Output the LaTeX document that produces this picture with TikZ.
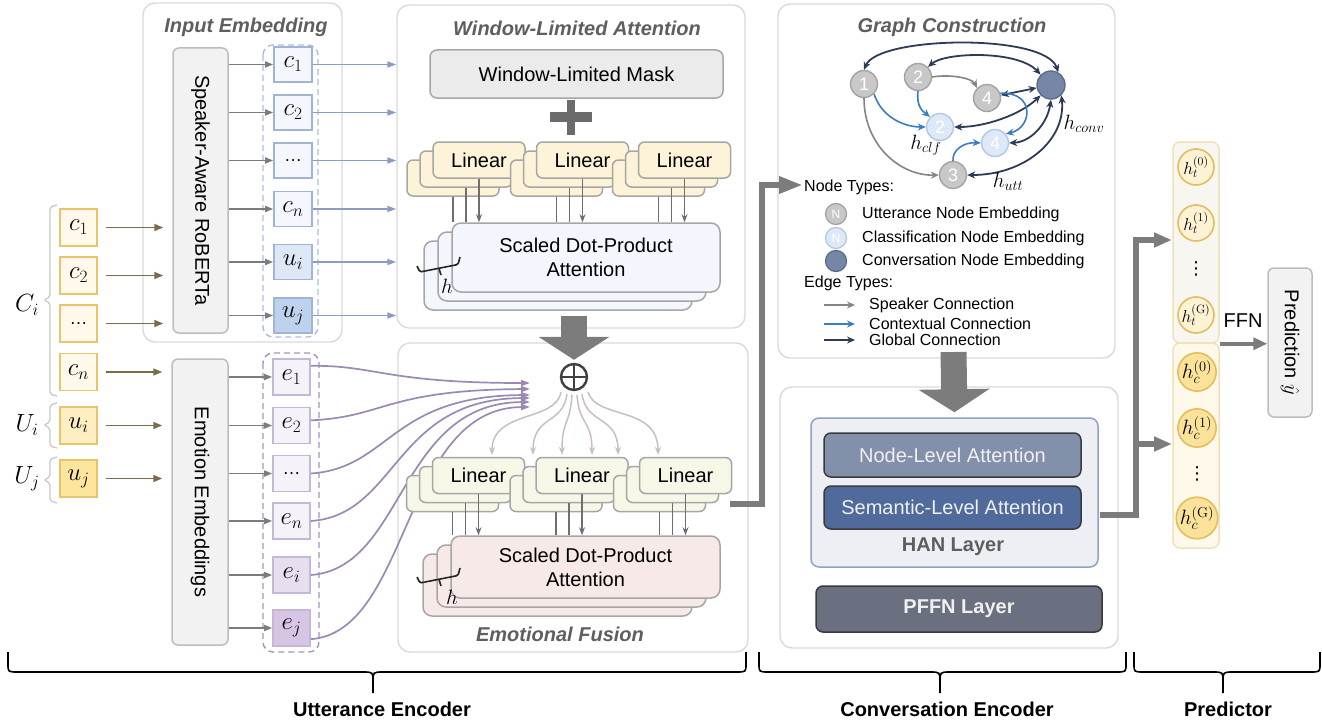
\documentclass[tikz,border=0pt]{standalone}
\usepackage[no-math]{fontspec}
\setmainfont{Liberation Sans}
\newfontfamily\symbolfont{DejaVu Sans}
\usetikzlibrary{arrows.meta}

\definecolor{panelline}{HTML}{DADADA}
\definecolor{titlegray}{HTML}{5E5E5E}
\definecolor{grayfill}{HTML}{F2F2F2}
\definecolor{grayline}{HTML}{BDBDBD}
\definecolor{arrgray}{HTML}{7C7C7C}
\definecolor{olivearrow}{HTML}{7A6D4C}
\definecolor{goldline}{HTML}{E8C56C}
\definecolor{goldA}{HTML}{FEF9EA}
\definecolor{goldB}{HTML}{FDEFC3}
\definecolor{goldC}{HTML}{FDE59D}
\definecolor{cline}{HTML}{A2B4D6}
\definecolor{blueA}{HTML}{F4F7FD}
\definecolor{blueB}{HTML}{DDE7F5}
\definecolor{blueC}{HTML}{BDD2EC}
\definecolor{bluedash}{HTML}{A9BDE0}
\definecolor{bluearrow}{HTML}{8A9CC2}
\definecolor{eline}{HTML}{C5B8D6}
\definecolor{purpA}{HTML}{F6F2F9}
\definecolor{purpB}{HTML}{E7DEF0}
\definecolor{purpC}{HTML}{D6C5E4}
\definecolor{purpdash}{HTML}{A593BB}
\definecolor{purpline}{HTML}{9B89B4}
\definecolor{boxline}{HTML}{A6A6A6}
\definecolor{maskfill}{HTML}{EBEBEB}
\definecolor{plusgray}{HTML}{6B6B6B}
\definecolor{linY}{HTML}{FDF3D8}
\definecolor{linG}{HTML}{F7F7E8}
\definecolor{sdpB}{HTML}{F3F6FC}
\definecolor{sdpP}{HTML}{F8E9E9}
\definecolor{stemgray}{HTML}{6E6E6E}
\definecolor{fanline}{HTML}{CBBEBE}
\definecolor{opluscol}{HTML}{404040}
\definecolor{navy}{HTML}{2E3B56}
\definecolor{ctxblue}{HTML}{3B7DC4}
\definecolor{spkgray}{HTML}{858585}
\definecolor{uttfill}{HTML}{C8C8C8}
\definecolor{uttline}{HTML}{A3A3A3}
\definecolor{clffill}{HTML}{DDE9F6}
\definecolor{clfline}{HTML}{B5C7DE}
\definecolor{convfill}{HTML}{7686A7}
\definecolor{convline}{HTML}{5C6C8C}
\definecolor{nodeatt}{HTML}{8390AA}
\definecolor{sematt}{HTML}{4F6A9B}
\definecolor{hanfill}{HTML}{EDEFF5}
\definecolor{hanline}{HTML}{8FA2C4}
\definecolor{pffnfill}{HTML}{6B7080}
\definecolor{darkline}{HTML}{3A3A3A}
\definecolor{predA}{HTML}{F8F6F0}
\definecolor{predB}{HTML}{FEF9EA}
\definecolor{predline}{HTML}{F0E2B6}
\definecolor{hA}{HTML}{FDF2D4}
\definecolor{hB}{HTML}{FBE29A}
\definecolor{hline}{HTML}{E3BE5E}
\definecolor{bracegray}{HTML}{C8C8C8}

\newcommand{\smalldots}{{\fontsize{18}{20}\selectfont\ldots}}

\tikzset{
  f20/.style={font=\fontsize{20}{24}\selectfont},
  f16/.style={font=\fontsize{16}{19}\selectfont},
  m24/.style={font=\fontsize{24}{28}\selectfont},
  panel/.style={draw=panelline, line width=1.4pt, rounded corners=12pt, fill=white, inner sep=0pt},
  ptitle/.style={font=\fontsize{20}{24}\selectfont\bfseries\itshape, text=titlegray},
  tallbox/.style={draw=grayline, fill=grayfill, line width=1.5pt, rounded corners=6pt, inner sep=0pt},
  inbox/.style={draw=goldline, line width=1.6pt, minimum width=37pt, minimum height=37pt, inner sep=0pt, m24},
  cbox/.style={draw=cline, line width=1.6pt, minimum width=38pt, minimum height=35pt, inner sep=0pt, m24},
  ebox/.style={draw=eline, line width=1.6pt, minimum width=37pt, minimum height=36pt, inner sep=0pt, m24},
  dashgrp/.style={line width=1.4pt, dash pattern=on 6pt off 4pt, rounded corners=10pt},
  olivearr/.style={draw=olivearrow, line width=1.6pt, -{Triangle[length=9pt,width=7pt]}},
  grayarr/.style={draw=arrgray, line width=1.6pt, -{Triangle[length=8pt,width=6pt]}},
  bluearr/.style={draw=bluearrow, line width=1.7pt, -{Triangle[length=9pt,width=6pt]}},
  purparr/.style={draw=purpline, line width=1.7pt, -{Triangle[length=9pt,width=6pt]}},
  maskbox/.style={draw=boxline, fill=maskfill, line width=1.5pt, rounded corners=7pt, inner sep=0pt, f20},
  linbox/.style={draw=boxline, line width=1.5pt, rounded corners=6pt, minimum width=92pt, minimum height=36pt, inner sep=0pt, f20},
  sdpbox/.style={draw=boxline, line width=1.5pt, rounded corners=9pt, inner sep=0pt, align=center, f20},
  stem/.style={draw=stemgray, line width=1.5pt},
  stemarr/.style={stem, -{Stealth[length=8pt,width=6pt]}},
  fanarr/.style={draw=fanline, line width=1.5pt, -{Stealth[length=8pt,width=6pt]}},
  bigdown/.style={draw=arrgray, line width=26pt, -{Triangle[length=23pt,width=70pt]}},
  fatarr/.style={draw=arrgray, line width=6pt, line join=miter, -{Triangle[length=24pt,width=16pt]}},
  hbrace/.style={draw=black!85, line width=1.6pt, rounded corners=1.5pt},
  utt/.style={circle, draw=uttline, fill=uttfill, line width=1.4pt, minimum size=27pt, inner sep=0pt, text=white, font=\fontsize{18}{20}\selectfont},
  clf/.style={utt, draw=clfline, fill=clffill},
  conv/.style={circle, draw=convline, fill=convfill, line width=1.4pt, minimum size=28pt, inner sep=0pt},
  spk/.style={draw=spkgray, line width=1.6pt, -{Stealth[length=8pt,width=7pt]}},
  ctx/.style={draw=ctxblue, line width=1.6pt, -{Stealth[length=8pt,width=7pt]}},
  glob/.style={draw=navy, line width=1.8pt, {Stealth[length=8pt,width=7pt]}-{Stealth[length=8pt,width=7pt]}},
  globone/.style={draw=navy, line width=1.8pt, -{Stealth[length=8pt,width=7pt]}},
  legdot/.style={circle, line width=1.3pt, minimum size=21pt, inner sep=0pt, text=white, font=\fontsize{12}{14}\selectfont},
  legtxt/.style={anchor=west, inner sep=0pt, f16},
  attbox/.style={draw=darkline, line width=1.5pt, rounded corners=7pt, inner sep=0pt, text=white!94!black, f20},
  hcirc/.style={circle, draw=hline, line width=1.6pt, minimum size=36pt, inner sep=0pt},
  vdot/.style={inner sep=0pt, font=\symbolfont\fontsize{18}{18}\selectfont},
  bigbrace/.style={draw=black, line width=1.6pt},
  sidebrace/.style={draw=bracegray, line width=1.3pt, rounded corners=2pt},
  btitle/.style={font=\fontsize{20}{24}\selectfont\bfseries}
}

% a stack of three Linear boxes: name, x, y of the front box, fill
\newcommand{\LinStack}[4]{%
  \node[linbox, fill=#4] (#1c) at (#2-26,#3+18) {};
  \node[linbox, fill=#4] (#1b) at (#2-13,#3+9) {};
  \node[linbox, fill=#4] (#1a) at (#2,#3) {Linear};
}
% a stack of three attention heads: name, x, y, width, height, fill
\newcommand{\SdpStack}[6]{%
  \node[sdpbox, fill=#6, minimum width=#4pt, minimum height=#5pt] (#1c) at (#2-28,#3+18) {};
  \node[sdpbox, fill=#6, minimum width=#4pt, minimum height=#5pt] (#1b) at (#2-14,#3+9) {};
  \node[sdpbox, fill=#6, minimum width=#4pt, minimum height=#5pt] (#1a) at (#2,#3) {Scaled Dot-Product\\Attention};
}
% stems from a Linear stack down to the attention heads
\newcommand{\Stems}[2]{%
  \draw[stem] (#1c.south) -- (#1c.south |- #2.north);
  \draw[stem] (#1b.south) -- (#1b.south |- #2.north);
  \draw[stemarr] (#1a.south) -- (#1a.south |- #2.north);
}

\begin{document}
\begin{tikzpicture}[x=1pt,y=-1pt]
\useasboundingbox (0,0) rectangle (1322,725);

% ---------- panels ----------
\node[panel, minimum width=199pt, minimum height=339pt] (inp) at (242.5,172.5) {};
\node[panel, minimum width=348pt, minimum height=323pt] (wla) at (571,166.5) {};
\node[panel, minimum width=350pt, minimum height=309pt] (efu) at (573,497.5) {};
\node[panel, minimum width=337pt, minimum height=354pt] (gcn) at (946.5,181) {};
\node[panel, minimum width=338pt, minimum height=261pt] (cen) at (949,517.5) {};

\node[ptitle] (inptitle) at (246,27) {Input Embedding};
\node[ptitle] (wlatitle) at (577,28) {Window-Limited Attention};
\node[ptitle] (efutitle) at (560,634) {Emotional Fusion};
\node[ptitle] (gcntitle) at (952,27) {Graph Construction};

% ---------- raw inputs ----------
\node[inbox, fill=goldA] (ic1) at (78.5,227.5) {$c_1$};
\node[inbox, fill=goldA] (ic2) at (78.5,275.5) {$c_2$};
\node[inbox, fill=goldA] (icd) at (78.5,323.5) {\smalldots};
\node[inbox, fill=goldA] (icn) at (78.5,372) {$c_n$};
\node[inbox, fill=goldB] (iui) at (78.5,425.5) {$u_i$};
\node[inbox, fill=goldC] (iuj) at (78.5,478.5) {$u_j$};

\draw[sidebrace] (57,205) -- (50,207) -- (50,297) -- (44,300) -- (50,303) -- (50,394) -- (57,396);
\draw[sidebrace] (57,403) -- (50,405) -- (50,422) -- (44,425) -- (50,428) -- (50,446) -- (57,448);
\draw[sidebrace] (57,457) -- (50,459) -- (50,477) -- (44,480) -- (50,483) -- (50,501) -- (57,503);
\node[m24] (lci) at (27,305) {$C_i$};
\node[m24] (lui) at (27,425) {$U_i$};
\node[m24] (luj) at (27,479) {$U_j$};

% ---------- encoders ----------
\node[tallbox, minimum width=55pt, minimum height=285pt] (rob) at (200.5,190.5) {};
\node[f20, rotate=-90] (robtxt) at (rob.center) {Speaker-Aware RoBERTa};
\node[tallbox, minimum width=56pt, minimum height=286pt] (emo) at (200,502) {};
\node[f20, rotate=-90] (emotxt) at (emo.center) {Emotion Embeddings};

\foreach \s in {ic1,ic2,icd}
  \draw[olivearr, shorten <=8pt, shorten >=9pt] (\s.east) -- (\s.east -| rob.west);
\foreach \s in {icn,iui,iuj}
  \draw[olivearr, shorten <=8pt, shorten >=9pt] (\s.east) -- (\s.east -| emo.west);

% ---------- embeddings ----------
\draw[dashgrp, draw=bluedash] (263,45) rectangle (318,337);
\draw[dashgrp, draw=purpdash] (263,353) rectangle (319,652);

\node[cbox, fill=blueA] (c1) at (293,64.5) {$c_1$};
\node[cbox, fill=blueA] (c2) at (293,112.5) {$c_2$};
\node[cbox, fill=blueA] (cd) at (293,160.5) {\smalldots};
\node[cbox, fill=blueA] (cn) at (293,209) {$c_n$};
\node[cbox, fill=blueB] (cui) at (293,262) {$u_i$};
\node[cbox, fill=blueC] (cuj) at (293,315.5) {$u_j$};

\node[ebox, fill=purpA] (e1) at (291.5,377) {$e_1$};
\node[ebox, fill=purpA] (e2) at (291.5,425.5) {$e_2$};
\node[ebox, fill=purpA] (ed) at (291.5,473.5) {\smalldots};
\node[ebox, fill=purpA] (en) at (291.5,521) {$e_n$};
\node[ebox, fill=purpB] (ei) at (291.5,575) {$e_i$};
\node[ebox, fill=purpC] (ej) at (291.5,628) {$e_j$};

\foreach \s in {c1,c2,cd,cn,cui,cuj} {
  \draw[grayarr] (rob.east |- \s.west) -- (\s.west);
  \draw[bluearr] (\s.east) -- (\s.east -| wla.west);
}
\foreach \s in {e1,e2,ed,en,ei,ej}
  \draw[grayarr] (emo.east |- \s.west) -- (\s.west);

% ---------- window-limited attention ----------
\node[maskbox, minimum width=293pt, minimum height=48pt] (mask) at (576.5,74) {Window-Limited Mask};
\fill[plusgray] (550,112) rectangle (592,122);
\fill[plusgray] (567,100) rectangle (575,135);

\LinStack{lt1}{479}{160}{linY}
\LinStack{lt2}{582.5}{160}{linY}
\LinStack{lt3}{684.5}{160}{linY}
\SdpStack{st}{586}{257.5}{268}{69}{sdpB}
\Stems{lt1}{sta}
\Stems{lt2}{sta}
\Stems{lt3}{sta}
\draw[hbrace] (417,266) -- (420,272) -- (458,264.5) -- (460,257);
\draw[hbrace] (439,268.5) -- (441,275);
\node[font=\fontsize{22}{24}\selectfont] (htop) at (447,286) {$h$};

% ---------- emotional fusion ----------
\node[circle, draw=opluscol, line width=2.4pt, minimum size=26pt, inner sep=0pt] (oplus) at (574,377) {};
\draw[draw=opluscol, line width=2.4pt] (oplus.north) -- (oplus.south);
\draw[draw=opluscol, line width=2.4pt] (oplus.west) -- (oplus.east);

\coordinate (wlaout) at (574,316);
\draw[bigdown, shorten >=3pt] (wlaout) -- (oplus.north);

\coordinate (p1) at (530,383);
\coordinate (p2) at (530,389);
\coordinate (p3) at (530,395);
\coordinate (p4) at (530,398);
\coordinate (p5) at (530,402);
\coordinate (p6) at (530,407);
\draw[purparr] (e1.30) .. controls (375,365) and (385,383) .. (p1);
\draw[purparr] (e2.15) .. controls (385,417) and (385,390) .. (p2);
\draw[purparr] (ed.east) .. controls (390,468) and (390,396) .. (p3);
\draw[purparr] (en.east) .. controls (398,515) and (393,399) .. (p4);
\draw[purparr] (ei.east) .. controls (405,568) and (398,403) .. (p5);
\draw[purparr] (ej.-30) .. controls (410,632) and (402,408) .. (p6);

\LinStack{lb1}{478.5}{475.5}{linG}
\LinStack{lb2}{582}{475.5}{linG}
\LinStack{lb3}{685.5}{475.5}{linG}

\coordinate (s1) at (561,392);
\coordinate (s2) at (567,394);
\coordinate (s3) at (572,395);
\coordinate (s4) at (577,395);
\coordinate (s5) at (582,394);
\coordinate (s6) at (588,392);
\coordinate (t1) at (492,455);
\coordinate (t2) at (533,455);
\coordinate (t3) at (562,455);
\coordinate (t4) at (592,455);
\coordinate (t5) at (618,455);
\coordinate (t6) at (658,455);
\draw[fanarr] (s1) .. controls (556,422) and (492,410) .. (t1);
\draw[fanarr] (s2) .. controls (563,425) and (533,415) .. (t2);
\draw[fanarr] (s3) .. controls (570,425) and (562,420) .. (t3);
\draw[fanarr] (s4) .. controls (579,425) and (592,420) .. (t4);
\draw[fanarr] (s5) .. controls (586,425) and (618,415) .. (t5);
\draw[fanarr] (s6) .. controls (596,420) and (658,405) .. (t6);

\SdpStack{sb}{585.5}{567}{269}{62}{sdpP}
\Stems{lb1}{sba}
\Stems{lb2}{sba}
\Stems{lb3}{sba}
\draw[hbrace] (417,577) -- (420,583) -- (458,575.5) -- (460,568);
\draw[hbrace] (439,579.5) -- (441,586);
\node[font=\fontsize{22}{24}\selectfont] (hbot) at (452,597) {$h$};

% ---------- to the conversation encoder ----------
\coordinate (efuout) at (730,503.5);
\coordinate (gcnin) at (803,185);
\draw[fatarr] (efuout) -- (762,503.5) -- (762,185) -- (gcnin);

% ---------- graph construction ----------
\node[utt] (n1) at (864,84) {1};
\node[utt] (n2) at (918,77) {2};
\node[utt] (n4) at (987,98) {4};
\node[conv] (cv) at (1051,85) {};
\node[clf] (k2) at (940,127) {2};
\node[clf] (k4) at (995,143) {4};
\node[utt] (n3) at (953,175) {3};

\draw[glob] (n1.north) .. controls (878,36) and (1045,33) .. (cv.60);
\draw[glob] (n2.north east) .. controls (945,52) and (1018,50) .. (cv.north west);
\draw[glob] (n4) -- (cv);
\draw[glob] (cv.south west) .. controls (1020,115) and (985,127) .. (k2.east);
\draw[glob] (cv.south) .. controls (1047,125) and (1030,142) .. (k4.east);
\draw[glob] (cv.south east) .. controls (1066,140) and (1025,175) .. (n3.east);

\draw[spk] (n2.east) .. controls (950,74) and (972,78) .. (n4.north west);
\draw[spk] (n1.south) .. controls (864,145) and (900,176) .. (n3.west);

\draw[ctx] (n1.south east) .. controls (882,118) and (905,127) .. (k2.west);
\draw[ctx] (n2.south) .. controls (916,108) and (924,112) .. (k2.north west);
\draw[ctx] (n4.20) .. controls (1036,92) and (1032,128) .. (k4.40);
\draw[ctx] (n3.north) .. controls (952,150) and (964,142) .. (k4.west);

\node[font=\fontsize{22}{24}\selectfont] (lclf) at (926,145) {$h_{clf}$};
\node[font=\fontsize{22}{24}\selectfont] (lconv) at (1084,124) {$h_{conv}$};
\node[font=\fontsize{22}{24}\selectfont] (lutt) at (1008,182) {$h_{utt}$};

% legend
\node[legtxt] (ntypes) at (804,187) {Node Types:};
\node[legdot, draw=uttline, fill=uttfill] (d1) at (836,214) {N};
\node[legdot, draw=clfline, fill=clffill] (d2) at (836,238) {N};
\node[legdot, draw=convline, fill=convfill] (d3) at (836,261) {};
\node[legtxt] (t1txt) at (862,214) {Utterance Node Embedding};
\node[legtxt] (t2txt) at (862,238) {Classification Node Embedding};
\node[legtxt] (t3txt) at (862,261) {Conversation Node Embedding};
\node[legtxt] (etypes) at (804,283) {Edge Types:};
\coordinate (la1) at (824,305);
\coordinate (lb1e) at (855,305);
\coordinate (la2) at (824,324);
\coordinate (lb2e) at (855,324);
\coordinate (la3) at (824,340);
\coordinate (lb3e) at (855,340);
\draw[spk] (la1) -- (lb1e);
\draw[ctx] (la2) -- (lb2e);
\draw[globone] (la3) -- (lb3e);
\node[legtxt] (s1txt) at (869,305) {Speaker Connection};
\node[legtxt] (s2txt) at (869,324) {Contextual Connection};
\node[legtxt] (s3txt) at (869,340) {Global Connection};

% ---------- HAN and PFFN ----------
\node[draw=hanline, fill=hanfill, line width=1.5pt, rounded corners=8pt, minimum width=287pt, minimum height=149pt, inner sep=0pt] (han) at (954.5,492.5) {};
\coordinate (gcnout) at (953.5,352);
\draw[bigdown, shorten >=5pt] (gcnout) -- (han.north);
\node[attbox, fill=nodeatt, minimum width=257pt, minimum height=44pt] (nla) at (952.5,455) {Node-Level Attention};
\node[attbox, fill=sematt, minimum width=257pt, minimum height=43pt] (sla) at (952.5,507.5) {Semantic-Level Attention};
\node[font=\fontsize{20}{24}\selectfont\bfseries, text=titlegray] (hantxt) at (953,547) {HAN Layer};
\node[attbox, fill=pffnfill, minimum width=286pt, minimum height=46pt, font=\fontsize{20}{24}\selectfont\bfseries] (pffn) at (959,609) {PFFN Layer};

% ---------- predictor ----------
\node[draw=predline, fill=predA, line width=1.5pt, rounded corners=7pt, minimum width=46pt, minimum height=201pt, inner sep=0pt] (ptop) at (1196,242.5) {};
\node[draw=predline, fill=predB, line width=1.5pt, rounded corners=7pt, minimum width=46pt, minimum height=205pt, inner sep=0pt] (pbot) at (1196,445.5) {};
\node[hcirc, fill=hA, font=\fontsize{18}{20}\selectfont] (ht0) at (1196,167) {$h_t^{(0)}$};
\node[hcirc, fill=hA, font=\fontsize{18}{20}\selectfont] (ht1) at (1196,223) {$h_t^{(1)}$};
\node[vdot] (htd) at (1196,269) {⋮};
\node[hcirc, fill=hA, font=\fontsize{18}{20}\selectfont] (htg) at (1196,315) {$h_t^{(\mathrm{G})}$};
\node[hcirc, fill=hB, font=\fontsize{20}{22}\selectfont] (hc0) at (1197,372) {$h_c^{(0)}$};
\node[hcirc, fill=hB, font=\fontsize{20}{22}\selectfont] (hc1) at (1197,428) {$h_c^{(1)}$};
\node[vdot] (hcd) at (1197,474) {⋮};
\node[hcirc, fill=hB, font=\fontsize{20}{22}\selectfont] (hcg) at (1197,518) {$h_c^{(\mathrm{G})}$};

\coordinate (hanout) at (1100,515);
\coordinate (tin) at (1172,240);
\coordinate (cin) at (1172,444);
\coordinate (fork) at (1136,444);
\draw[fatarr, -{Triangle[length=18pt,width=14pt]}] (hanout) -- (1136,515) -- (1136,240) -- (tin);
\draw[fatarr, -{Triangle[length=18pt,width=14pt]}] (fork) -- (cin);

\node[tallbox, minimum width=44pt, minimum height=149pt] (pred) at (1290,342.5) {};
\node[f20, rotate=-90] (predtxt) at (pred.center) {Prediction $\hat{y}$};
\draw[draw=arrgray, line width=4pt, -{Triangle[length=14pt,width=12pt]}] (ptop.south east) -- (ptop.south east -| pred.west);
\node[f20] (ffn) at (1243,321) {FFN};

% ---------- bottom braces ----------
\draw[bigbrace] (8,652) -- (8,664) .. controls (8,672) .. (18,672) -- (363,672) .. controls (373,672) .. (373,682) -- (373,693);
\draw[bigbrace] (373,682) .. controls (373,672) .. (383,672) -- (736,672) .. controls (746,672) .. (746,664) -- (746,652);
\draw[bigbrace] (759,652) -- (759,664) .. controls (759,672) .. (769,672) -- (930,672) .. controls (940,672) .. (940,682) -- (940,693);
\draw[bigbrace] (940,682) .. controls (940,672) .. (950,672) -- (1116,672) .. controls (1126,672) .. (1126,664) -- (1126,652);
\draw[bigbrace] (1134,652) -- (1134,664) .. controls (1134,672) .. (1144,672) -- (1213,672) .. controls (1223,672) .. (1223,682) -- (1223,693);
\draw[bigbrace] (1223,682) .. controls (1223,672) .. (1233,672) -- (1310,672) .. controls (1320,672) .. (1320,664) -- (1320,652);
\node[btitle] (lue) at (382,709) {Utterance Encoder};
\node[btitle] (lce) at (947,709) {Conversation Encoder};
\node[btitle] (lpr) at (1228,709) {Predictor};
\end{tikzpicture}
\end{document}
